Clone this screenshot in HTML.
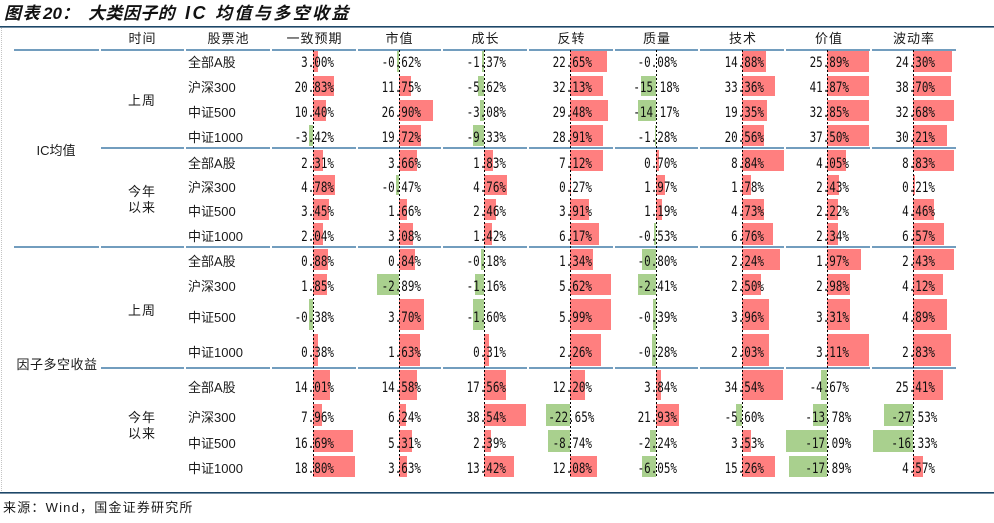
<!DOCTYPE html>
<html><head><meta charset="utf-8">
<style>
html,body{margin:0;padding:0;background:#fff;width:994px;height:523px;overflow:hidden}
svg{display:block}
.cj{font-family:"Liberation Sans","Noto Sans CJK SC",sans-serif;font-size:13px;fill:#1a1a1a}
.nm{font-family:"DejaVu Sans Mono","Liberation Mono",monospace;font-size:14px;fill:#111}
.r{fill:#ff7f7f}
.g{fill:#a9d08e}
</style></head>
<body>
<svg width="994" height="523" viewBox="0 0 994 523" xmlns="http://www.w3.org/2000/svg">
<rect x="0" y="0" width="994" height="523" fill="#fff"/>
<!-- title -->
<text y="19" font-family="'Liberation Sans','Noto Sans CJK SC',sans-serif" font-size="17" font-weight="bold" font-style="italic" fill="#111"><tspan x="4" letter-spacing="1.5">图表</tspan><tspan x="43">20：</tspan><tspan x="88" letter-spacing="0.4">大类因子的</tspan><tspan x="185" font-size="18" letter-spacing="2.5">IC</tspan><tspan x="215" letter-spacing="2.4">均值与多空收益</tspan></text>
<rect x="0" y="26" width="994" height="1.6" fill="#1d4768"/>
<line x1="1.5" y1="28" x2="1.5" y2="492" stroke="#c4c4c4" stroke-width="1" stroke-dasharray="1,1"/>

<!-- table lines -->
<g fill="#729dbe">
<rect x="14" y="49" width="85" height="2"/><rect x="101" y="49" width="83" height="2"/><rect x="186" y="49" width="84" height="2"/><rect x="272" y="49" width="84" height="2"/><rect x="358" y="49" width="83" height="2"/><rect x="443" y="49" width="84" height="2"/><rect x="529" y="49" width="84" height="2"/><rect x="615" y="49" width="83" height="2"/><rect x="700" y="49" width="84" height="2"/><rect x="786" y="49" width="84" height="2"/><rect x="872" y="49" width="84" height="2"/>
<rect x="101" y="147" width="83" height="2"/><rect x="186" y="147" width="84" height="2"/><rect x="272" y="147" width="84" height="2"/><rect x="358" y="147" width="83" height="2"/><rect x="443" y="147" width="84" height="2"/><rect x="529" y="147" width="84" height="2"/><rect x="615" y="147" width="83" height="2"/><rect x="700" y="147" width="84" height="2"/><rect x="786" y="147" width="84" height="2"/><rect x="872" y="147" width="84" height="2"/>
<rect x="14" y="246" width="85" height="2"/><rect x="101" y="246" width="83" height="2"/><rect x="186" y="246" width="84" height="2"/><rect x="272" y="246" width="84" height="2"/><rect x="358" y="246" width="83" height="2"/><rect x="443" y="246" width="84" height="2"/><rect x="529" y="246" width="84" height="2"/><rect x="615" y="246" width="83" height="2"/><rect x="700" y="246" width="84" height="2"/><rect x="786" y="246" width="84" height="2"/><rect x="872" y="246" width="84" height="2"/>
<rect x="101" y="367" width="83" height="2"/><rect x="186" y="367" width="84" height="2"/><rect x="272" y="367" width="84" height="2"/><rect x="358" y="367" width="83" height="2"/><rect x="443" y="367" width="84" height="2"/><rect x="529" y="367" width="84" height="2"/><rect x="615" y="367" width="83" height="2"/><rect x="700" y="367" width="84" height="2"/><rect x="786" y="367" width="84" height="2"/><rect x="872" y="367" width="84" height="2"/>
</g>

<!-- bars block 1 -->
<rect class="r" x="313" y="51" width="5" height="21"/><rect class="r" x="313" y="76" width="21" height="20"/><rect class="r" x="313" y="100" width="13" height="21"/><rect class="g" x="309" y="125" width="4" height="21"/>
<rect class="g" x="397" y="51" width="2" height="21"/><rect class="r" x="399" y="76" width="12" height="20"/><rect class="r" x="399" y="100" width="34" height="21"/><rect class="r" x="399" y="125" width="22" height="21"/>
<rect class="g" x="482" y="51" width="2" height="21"/><rect class="g" x="478" y="76" width="6" height="20"/><rect class="g" x="480" y="100" width="4" height="21"/><rect class="g" x="473" y="125" width="11" height="21"/>
<rect class="r" x="570" y="51" width="37" height="21"/><rect class="r" x="570" y="76" width="33" height="20"/><rect class="r" x="570" y="100" width="38" height="21"/><rect class="r" x="570" y="125" width="33" height="21"/>
<rect class="g" x="641" y="76" width="15" height="20"/><rect class="g" x="638" y="100" width="18" height="21"/><rect class="g" x="655" y="125" width="1" height="21"/>
<rect class="r" x="742" y="51" width="24" height="21"/><rect class="r" x="742" y="76" width="33" height="20"/><rect class="r" x="742" y="100" width="25" height="21"/><rect class="r" x="742" y="125" width="22" height="21"/>
<rect class="r" x="827" y="51" width="42" height="21"/><rect class="r" x="827" y="76" width="42" height="20"/><rect class="r" x="827" y="100" width="42" height="21"/><rect class="r" x="827" y="125" width="42" height="21"/>
<rect class="r" x="913" y="51" width="39" height="21"/><rect class="r" x="913" y="76" width="38" height="20"/><rect class="r" x="913" y="100" width="41" height="21"/><rect class="r" x="913" y="125" width="34" height="21"/>
<!-- bars block 2 -->
<rect class="r" x="313" y="150" width="10" height="21"/><rect class="r" x="313" y="175" width="22" height="20"/><rect class="r" x="313" y="199" width="16" height="21"/><rect class="r" x="313" y="223" width="10" height="22"/>
<rect class="r" x="399" y="150" width="18" height="21"/><rect class="g" x="396" y="175" width="3" height="20"/><rect class="r" x="399" y="199" width="8" height="21"/><rect class="r" x="399" y="223" width="14" height="22"/>
<rect class="r" x="484" y="150" width="9" height="21"/><rect class="r" x="484" y="175" width="23" height="20"/><rect class="r" x="484" y="199" width="12" height="21"/><rect class="r" x="484" y="223" width="8" height="22"/>
<rect class="r" x="570" y="150" width="33" height="21"/><rect class="r" x="570" y="175" width="1" height="20"/><rect class="r" x="570" y="199" width="19" height="21"/><rect class="r" x="570" y="223" width="29" height="22"/>
<rect class="r" x="656" y="150" width="3" height="21"/><rect class="r" x="656" y="175" width="9" height="20"/><rect class="r" x="656" y="199" width="6" height="21"/><rect class="g" x="654" y="223" width="2" height="22"/>
<rect class="r" x="742" y="150" width="42" height="21"/><rect class="r" x="742" y="175" width="9" height="20"/><rect class="r" x="742" y="199" width="22" height="21"/><rect class="r" x="742" y="223" width="31" height="22"/>
<rect class="r" x="827" y="150" width="19" height="21"/><rect class="r" x="827" y="175" width="12" height="20"/><rect class="r" x="827" y="199" width="11" height="21"/><rect class="r" x="827" y="223" width="11" height="22"/>
<rect class="r" x="913" y="150" width="41" height="21"/><rect class="r" x="913" y="175" width="2" height="20"/><rect class="r" x="913" y="199" width="21" height="21"/><rect class="r" x="913" y="223" width="31" height="22"/>
<!-- bars block 3 -->
<rect class="r" x="313" y="249" width="15" height="21"/><rect class="r" x="313" y="274" width="14" height="21"/><rect class="g" x="309" y="299" width="4" height="31"/><rect class="r" x="313" y="334" width="5" height="32"/>
<rect class="r" x="399" y="249" width="16" height="21"/><rect class="g" x="377" y="274" width="22" height="21"/><rect class="r" x="399" y="299" width="25" height="31"/><rect class="r" x="399" y="334" width="21" height="32"/>
<rect class="g" x="481" y="249" width="3" height="21"/><rect class="g" x="475" y="274" width="9" height="21"/><rect class="g" x="473" y="299" width="11" height="31"/><rect class="r" x="484" y="334" width="5" height="32"/>
<rect class="r" x="570" y="249" width="23" height="21"/><rect class="r" x="570" y="274" width="41" height="21"/><rect class="r" x="570" y="299" width="41" height="31"/><rect class="r" x="570" y="334" width="31" height="32"/>
<rect class="g" x="642" y="249" width="14" height="21"/><rect class="g" x="638" y="274" width="18" height="21"/><rect class="g" x="653" y="299" width="3" height="31"/><rect class="g" x="652" y="334" width="4" height="32"/>
<rect class="r" x="742" y="249" width="38" height="21"/><rect class="r" x="742" y="274" width="19" height="21"/><rect class="r" x="742" y="299" width="27" height="31"/><rect class="r" x="742" y="334" width="27" height="32"/>
<rect class="r" x="827" y="249" width="34" height="21"/><rect class="r" x="827" y="274" width="23" height="21"/><rect class="r" x="827" y="299" width="23" height="31"/><rect class="r" x="827" y="334" width="42" height="32"/>
<rect class="r" x="913" y="249" width="41" height="21"/><rect class="r" x="913" y="274" width="30" height="21"/><rect class="r" x="913" y="299" width="34" height="31"/><rect class="r" x="913" y="334" width="38" height="32"/>
<!-- bars block 4 -->
<rect class="r" x="313" y="370" width="17" height="30"/><rect class="r" x="313" y="404" width="9" height="22"/><rect class="r" x="313" y="430" width="40" height="22"/><rect class="r" x="313" y="456" width="42" height="21"/>
<rect class="r" x="399" y="370" width="18" height="30"/><rect class="r" x="399" y="404" width="7" height="22"/><rect class="r" x="399" y="430" width="13" height="22"/><rect class="r" x="399" y="456" width="8" height="21"/>
<rect class="r" x="484" y="370" width="22" height="30"/><rect class="r" x="484" y="404" width="42" height="22"/><rect class="r" x="484" y="430" width="7" height="22"/><rect class="r" x="484" y="456" width="30" height="21"/>
<rect class="r" x="570" y="370" width="15" height="30"/><rect class="g" x="546" y="404" width="24" height="22"/><rect class="g" x="548" y="430" width="22" height="22"/><rect class="r" x="570" y="456" width="27" height="21"/>
<rect class="r" x="656" y="370" width="5" height="30"/><rect class="r" x="656" y="404" width="23" height="22"/><rect class="g" x="650" y="430" width="6" height="22"/><rect class="g" x="642" y="456" width="14" height="21"/>
<rect class="r" x="742" y="370" width="41" height="30"/><rect class="g" x="736" y="404" width="6" height="22"/><rect class="r" x="742" y="430" width="9" height="22"/><rect class="r" x="742" y="456" width="33" height="21"/>
<rect class="g" x="821" y="370" width="6" height="30"/><rect class="g" x="813" y="404" width="14" height="22"/><rect class="g" x="786" y="430" width="41" height="22"/><rect class="g" x="789" y="456" width="38" height="21"/>
<rect class="r" x="913" y="370" width="30" height="30"/><rect class="g" x="884" y="404" width="29" height="22"/><rect class="g" x="873" y="430" width="40" height="22"/><rect class="r" x="913" y="456" width="10" height="21"/>

<!-- dashed axes -->
<g stroke="#000" stroke-width="1" stroke-dasharray="2,2">
<line x1="313.5" y1="50" x2="313.5" y2="478"/><line x1="399.5" y1="50" x2="399.5" y2="478"/><line x1="484.5" y1="50" x2="484.5" y2="478"/><line x1="570.5" y1="50" x2="570.5" y2="478"/><line x1="656.5" y1="50" x2="656.5" y2="478"/><line x1="742.5" y1="50" x2="742.5" y2="478"/><line x1="827.5" y1="50" x2="827.5" y2="478"/><line x1="913.5" y1="50" x2="913.5" y2="478"/>
</g>

<!-- headers -->
<g class="cj" text-anchor="middle" letter-spacing="1">
<text x="142.5" y="43">时间</text><text x="228.5" y="43">股票池</text><text x="314.5" y="43">一致预期</text><text x="399.5" y="43">市值</text><text x="485.5" y="43">成长</text><text x="571.5" y="43">反转</text><text x="657" y="43">质量</text><text x="743" y="43">技术</text><text x="829" y="43">价值</text><text x="914" y="43">波动率</text>
</g>

<!-- group & time labels -->
<g class="cj" text-anchor="middle">
<text x="56" y="155">IC均值</text>
<text x="57" y="369" letter-spacing="0.5">因子多空收益</text>
<text x="142" y="105" letter-spacing="1">上周</text>
<text x="142" y="196" letter-spacing="1">今年</text>
<text x="142" y="212" letter-spacing="1">以来</text>
<text x="142" y="315" letter-spacing="1">上周</text>
<text x="142" y="422" letter-spacing="1">今年</text>
<text x="142" y="438" letter-spacing="1">以来</text>
</g>

<!-- pool names -->
<g class="cj">
<text x="188" y="67">全部A股</text><text x="188" y="92">沪深300</text><text x="188" y="117">中证500</text><text x="188" y="142">中证1000</text>
<text x="188" y="168">全部A股</text><text x="188" y="192">沪深300</text><text x="188" y="216">中证500</text><text x="188" y="241">中证1000</text>
<text x="188" y="266">全部A股</text><text x="188" y="291">沪深300</text><text x="188" y="322">中证500</text><text x="188" y="357">中证1000</text>
<text x="188" y="392">全部A股</text><text x="188" y="422">沪深300</text><text x="188" y="448">中证500</text><text x="188" y="473">中证1000</text>
</g>

<!-- numbers -->
<g class="nm" text-anchor="end" transform="translate(334,0) scale(0.78,1)">
<text y="67">3.00%</text><text y="92">20.83%</text><text y="117">10.40%</text><text y="142">-3.42%</text>
<text y="168">2.31%</text><text y="192">4.78%</text><text y="216">3.45%</text><text y="241">2.04%</text>
<text y="266">0.88%</text><text y="291">1.85%</text><text y="322">-0.38%</text><text y="357">0.38%</text>
<text y="392">14.01%</text><text y="422">7.96%</text><text y="448">16.69%</text><text y="473">18.80%</text>
</g>
<g class="nm" text-anchor="end" transform="translate(421,0) scale(0.78,1)">
<text y="67">-0.62%</text><text y="92">11.75%</text><text y="117">26.90%</text><text y="142">19.72%</text>
<text y="168">3.66%</text><text y="192">-0.47%</text><text y="216">1.66%</text><text y="241">3.08%</text>
<text y="266">0.84%</text><text y="291">-2.89%</text><text y="322">3.70%</text><text y="357">1.63%</text>
<text y="392">14.58%</text><text y="422">6.24%</text><text y="448">5.31%</text><text y="473">3.63%</text>
</g>
<g class="nm" text-anchor="end" transform="translate(506,0) scale(0.78,1)">
<text y="67">-1.37%</text><text y="92">-5.62%</text><text y="117">-3.08%</text><text y="142">-9.33%</text>
<text y="168">1.83%</text><text y="192">4.76%</text><text y="216">2.46%</text><text y="241">1.42%</text>
<text y="266">-0.18%</text><text y="291">-1.16%</text><text y="322">-1.60%</text><text y="357">0.31%</text>
<text y="392">17.56%</text><text y="422">38.54%</text><text y="448">2.39%</text><text y="473">13.42%</text>
</g>
<g class="nm" text-anchor="end" transform="translate(592,0) scale(0.78,1)">
<text y="67">22.65%</text><text y="92">32.13%</text><text y="117">29.48%</text><text y="142">28.91%</text>
<text y="168">7.12%</text><text y="192">0.27%</text><text y="216">3.91%</text><text y="241">6.17%</text>
<text y="266">1.34%</text><text y="291">5.62%</text><text y="322">5.99%</text><text y="357">2.26%</text>
<text y="392">12.20%</text><text x="3" y="422">-22.65%</text><text y="448">-8.74%</text><text y="473">12.08%</text>
</g>
<g class="nm" text-anchor="end" transform="translate(677,0) scale(0.78,1)">
<text y="67">-0.08%</text><text x="3" y="92">-15.18%</text><text x="3" y="117">-14.17%</text><text y="142">-1.28%</text>
<text y="168">0.70%</text><text y="192">1.97%</text><text y="216">1.19%</text><text y="241">-0.53%</text>
<text y="266">-0.80%</text><text y="291">-2.41%</text><text y="322">-0.39%</text><text y="357">-0.28%</text>
<text y="392">3.84%</text><text y="422">21.93%</text><text y="448">-2.24%</text><text y="473">-6.05%</text>
</g>
<g class="nm" text-anchor="end" transform="translate(764,0) scale(0.78,1)">
<text y="67">14.88%</text><text y="92">33.36%</text><text y="117">19.35%</text><text y="142">20.56%</text>
<text y="168">8.84%</text><text y="192">1.78%</text><text y="216">4.73%</text><text y="241">6.76%</text>
<text y="266">2.24%</text><text y="291">2.50%</text><text y="322">3.96%</text><text y="357">2.03%</text>
<text y="392">34.54%</text><text y="422">-5.60%</text><text y="448">3.53%</text><text y="473">15.26%</text>
</g>
<g class="nm" text-anchor="end" transform="translate(849,0) scale(0.78,1)">
<text y="67">25.89%</text><text y="92">41.87%</text><text y="117">32.85%</text><text y="142">37.50%</text>
<text y="168">4.05%</text><text y="192">2.43%</text><text y="216">2.22%</text><text y="241">2.34%</text>
<text y="266">1.97%</text><text y="291">2.98%</text><text y="322">3.31%</text><text y="357">3.11%</text>
<text y="392">-4.67%</text><text x="3" y="422">-13.78%</text><text x="3" y="448">-17.09%</text><text x="3" y="473">-17.89%</text>
</g>
<g class="nm" text-anchor="end" transform="translate(935,0) scale(0.78,1)">
<text y="67">24.30%</text><text y="92">38.70%</text><text y="117">32.68%</text><text y="142">30.21%</text>
<text y="168">8.83%</text><text y="192">0.21%</text><text y="216">4.46%</text><text y="241">6.57%</text>
<text y="266">2.43%</text><text y="291">4.12%</text><text y="322">4.89%</text><text y="357">2.83%</text>
<text y="392">25.41%</text><text x="3" y="422">-27.53%</text><text x="3" y="448">-16.33%</text><text y="473">4.57%</text>
</g>

<!-- bottom -->
<rect x="0" y="492" width="994" height="1.6" fill="#1d4768"/>
<text x="3" y="512" class="cj" letter-spacing="1.2">来源：Wind，国金证券研究所</text>
</svg>
</body></html>
